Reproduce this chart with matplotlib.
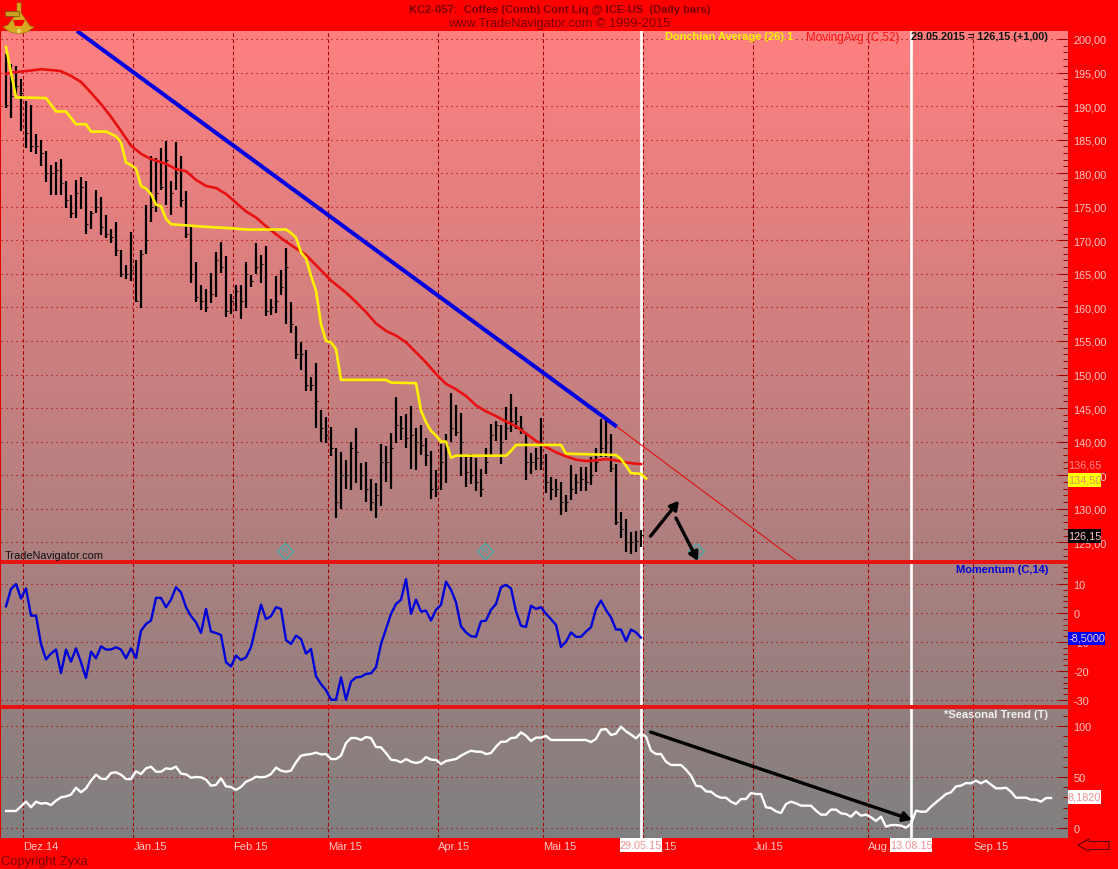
import numpy as np
import matplotlib
matplotlib.use("Agg")
import matplotlib.pyplot as plt
from matplotlib.patches import Polygon, Rectangle, Circle, Wedge

plt.rcParams['font.family'] = ['Liberation Sans', 'DejaVu Sans']
plt.rcParams['lines.scale_dashes'] = False

# ---------- data ----------
highs = [197.8,196.3,196.0,194.1,190.7,190.2,185.9,185.0,183.3,181.2,181.6,182.1,178.8,176.7,179.0,179.4,
         178.8,174.4,177.5,176.4,173.7,171.7,172.8,168.6,166.3,171.2,167.1,168.5,175.2,182.6,182.2,183.7,
         184.8,178.8,184.6,182.6,177.4,172.2,166.7,163.4,162.7,165.1,168.3,169.7,167.7,162.0,163.4,163.4,
         166.8,164.9,169.6,167.8,169.1,161.2,164.7,165.6,168.8,160.8,157.3,154.8,153.6,149.7,151.7,144.7,
         143.6,142.2,139.0,138.4,137.3,139.9,142.0,136.8,136.9,134.4,133.8,139.6,139.4,141.3,146.6,143.8,
         144.1,145.3,142.1,142.5,140.6,138.6,135.8,139.6,141.2,147.2,145.5,144.3,137.7,138.2,137.6,135.9,
         139.1,142.6,143.1,142.4,145.1,147.1,145.2,143.8,141.1,138.3,139.1,143.5,138.1,134.7,134.4,134.0,
         132.1,136.5,135.2,136.2,136.2,137.7,139.0,143.3,143.3,141.2,136.7,129.5,128.5,126.5,126.7,126.9]
lows = [189.7,188.3,191.6,186.3,183.7,183.1,182.8,181.0,178.7,176.8,176.8,176.8,174.8,173.3,173.3,174.7,
        171.0,171.7,174.1,170.8,170.4,169.6,167.6,164.5,164.3,163.9,160.8,159.9,168.0,172.8,174.2,177.5,
        175.2,173.7,177.5,175.0,170.3,163.7,160.8,159.6,159.3,160.6,161.5,165.2,158.5,159.0,159.5,158.3,
        159.9,163.1,165.0,163.6,158.7,158.9,159.1,161.9,157.5,156.2,152.3,150.6,147.6,147.5,142.1,140.0,
        139.8,137.8,128.6,130.0,133.0,132.8,133.9,132.8,131.0,129.7,128.6,130.4,134.0,133.0,139.8,140.3,
        139.1,135.9,135.8,138.0,136.4,131.5,131.7,132.8,133.8,139.9,140.9,134.8,133.3,133.7,132.7,131.7,
        135.2,138.0,140.1,136.6,140.3,141.5,141.9,141.1,134.3,135.2,135.7,135.7,132.3,131.3,131.8,129.0,
        129.5,131.3,132.2,132.7,132.7,133.5,135.5,137.7,137.7,135.4,127.6,125.6,123.5,123.3,123.6,124.3]
closes = [190.2,191.5,193,192,186,184,184,183,180,180,180.5,178.5,176,174,177,178,
          172.5,174,175,172,171,170.5,168.5,165,165,165.5,161,168,170,175,177,178,
          182,177,180,176,171,165,161.5,161,160,162,167,166,159.5,161,162.5,161,
          165,164,166,166.5,159.5,160,161,163,166,157.5,153,153,148.5,148.5,146,142,
          141,139,131,135,135,139,138.5,135,133,131,132,137,137,139,142.5,142,
          140.5,141,140,139.5,138,133,133,137,139.5,142,141.5,140,135.5,135,134,133,
          137,141,142.5,140,142,143,143,142,137,137,137.5,137,134,133,133,131,
          131,133,134,134.5,134,135,137,139,140,136,128,127,125,125,125.15,126.15]

ma_bars = [0,1,5,7,10,11,13,15,17,19,21,23,25,27,29,32,34,36,38,40,42,44,46,48,50,52,54,56,58,60,62,65,68,
           70,72,74,76,78,80,82,84,86,88,90,92,94,96,98,100,102,104,106,108,110,112,114,116,118,120,122,124,126,127]
ma_vals = [194.8,195,195.3,195.5,195.3,195.2,194.5,193.6,192,190.3,188.4,186.3,184.1,182.9,182.1,181.4,180.6,
           180.3,179,178.1,177.8,176.9,175.6,174.3,173.4,172.1,170.9,169.8,168.8,167.8,166.3,164,162.2,
           160.8,159.3,157.6,156.5,155.8,154.8,153.3,151.8,150.1,148.6,147.8,146.8,145.4,144.5,143.8,143,
           142.3,141.2,140.1,139.2,138.4,137.8,137.3,137.1,137.2,137.4,137.2,136.9,136.7,136.65]

don_bars = [0,1,2,8,9,10,12,14,16,17,20,22,23,24,25,26,27,28,29,30,31,32,33,40,45,48,56,57,58,59,60,61,62,63,
            64,65,66,67,76,77,82,83,84,85,86,87,88,89,90,100,101,102,111,112,122,123,124,125,127,128]
don_vals = [198.8,195,191.3,191.2,190.2,189.2,189.2,187.3,187.3,186.2,186.2,185.5,184.6,181.6,181.2,180.7,
            178.1,177.7,176.9,175.3,175.1,173.2,172.4,172,171.8,171.6,171.6,171.1,170.4,168.2,167.3,164.7,
            162.5,157.5,155,154.8,153.8,149.2,149.2,148.8,148.7,144.6,142.9,141.6,140.9,140,140,137.6,137.9,
            137.9,138.6,139.5,139.5,138.2,138,137.4,136.4,135.3,135.2,134.5]

momentum = [2.3,8.3,10,5,8.5,-0.9,-0.9,-10.7,-16,-14,-12.6,-20.7,-12.6,-16.8,-12.2,-17,-22.4,-13.3,-15.6,-11.5,
            -12.6,-12.6,-11.8,-12.6,-15.6,-12.2,-15.5,-6.1,-3.8,-2.6,5.2,5.2,2,4.6,8.9,7.1,2,-1.1,-3.2,-6.9,
            1.4,-6.4,-6.9,-7.6,-17,-18.4,-14.7,-16.2,-15.3,-11.8,-4.4,2.9,-2.1,-1.1,2,1.4,-9.3,-10.7,-7.8,-9,
            -14,-12.4,-21.8,-24.5,-26.6,-29.9,-29.9,-22.2,-29.9,-23.7,-22.2,-22,-21,-20.8,-18.7,-10.7,-5.5,-0.3,3.1,4.6,
            11.7,-0.3,4.6,0.5,0.8,-2.6,1.1,2.8,10.8,8,3.7,-4.6,-6.7,-8,-8.2,-2.9,-2.6,1.1,3.1,8.9,
            9.7,8.5,0.6,-4.4,-4.8,2.5,1.4,2,-0.3,-2.1,-4.1,-11.7,-9.9,-6.7,-8.2,-8.2,-6.4,-4.9,1.4,4.3,
            1,-1.5,-5.7,-5.7,-9.7,-5.7,-6.7,-8.5]

seasonal = [16.7,16.7,16.7,21.2,25.8,20.3,25.8,23.9,24.5,22.5,26.8,30.1,31,32.7,39.5,35,38.9,46.4,52.3,48.4,
            48,53.9,54.6,52.3,48,48,55.6,52.9,58.5,60.1,55.2,55.2,58.5,57.8,60.1,53.3,52.6,49.3,50,49.7,
            47.4,41.5,42.2,48.7,40.8,40.2,37.3,40.2,45.4,47.4,50.3,49.7,50.3,52.9,59.2,56.2,55.2,56.2,64.4,70.9,
            71.9,72.5,73.9,72.2,72.5,67.6,67.6,70.9,83.3,88.2,88.2,86.3,89.2,88.2,79.4,79.1,73.5,67,66.3,64.4,
            67.6,65,63.7,65,69.6,67,66.7,62.7,65.7,66.7,67.6,70.9,73.5,75.8,74.8,74.8,72.5,73.5,79.7,84.6,
            84.6,88.2,88.6,93.8,90.5,85.3,88.6,88.6,90.2,86.3,86.3,86.3,86.3,86.3,86.3,86.3,86.3,84.3,87.3,96.4,
            97,91.2,92.5,99.3,94.8,91.5,87.9,92.8,89.5,75.8,72.5,72.5,65,61.8,61.8,61.8,57.2,51.3,41.5,40.8,
            35.9,35.6,31.7,29.7,29.7,25.8,23.5,28.4,28.4,34.3,33.3,33.3,20.3,19.6,16.3,14.7,23.5,25.8,24.2,21.9,
            21.9,21.9,17,13.1,13.1,18,18,14.4,13.7,11.1,16,12.1,13.1,10.5,6.9,11.1,1.3,2.9,2.9,2.3,
            0.3,3.9,17,16,16,20.9,25.2,29.1,33.3,35,40.8,41.5,44.1,43.8,46.4,43.8,46.4,42.5,38.9,38.9,
            39.5,35.6,29.7,29.7,29.7,27.8,27.8,25.8,29.4,29.4]

month_pos = [3.47,25.47,45.47,64.47,86.47,107.47,127.47,149.47,172.47,193.47]
month_labels = ['Dez.14','Jän.15','Feb.15','Mär.15','Apr.15','Mai.15','Jun.15','Jul.15','Aug.15','Sep.15']
marker_bars = [127, 181]

trend_x = [14.2, 122.2]
trend_y = [201.2, 142.2]
trend_ext_x = [122.2, 158.4]
trend_ext_y = [142.2, 122.06]
r_icon_x = [55.8, 95.8, 138]
r_icon_y = [123.7, 123.7, 123.7]

price_major = list(range(125, 201, 5))
mom_major = [10, 0, -10, -20, -30]
seas_major = [100, 50, 0]

# ---------- layout ----------
W, H = 1118, 870
RED = '#FF0000'
GRID = '#A80000'
TICK = '#A00000'
LBL = '#FFC8C8'
fig = plt.figure(figsize=(W/100, H/100), dpi=100, facecolor=RED)

def make_ax(l, t, r, b, z=1):
    a = fig.add_axes([l/W, 1-b/H, (r-l)/W, (b-t)/H], zorder=z)
    a.patch.set_alpha(0)
    for s in a.spines.values():
        s.set_visible(False)
    return a

# gradient background
bg = make_ax(1, 32, 1068, 839, 0)
grad = np.linspace(0, 1, 256)[:, None, None]
top = np.array([1.0, 0.5, 0.5])
bot = np.array([0.5, 0.5, 0.5])
bg.imshow(top*(1-grad)+bot*grad, aspect='auto', extent=(0, 1, 0, 1))
bg.set_axis_off()

XL = (-1, 212.4)
ax1 = make_ax(1, 32, 1068, 563)
ax2 = make_ax(1, 564, 1068, 708)
ax3 = make_ax(1, 709, 1068, 839)
ax1.set_ylim(200-(563-40)/6.71, 200+8/6.71)
ax2.set_ylim(-(708-614)/2.9, (614-564)/2.9)
ax3.set_ylim(-(839-829)/1.02, (829-709)/1.02)

for a in (ax1, ax2, ax3):
    a.set_xlim(*XL)
    a.set_xticks(month_pos)
    a.tick_params(axis='x', length=0)
    a.grid(True, axis='x', color=GRID, lw=0.75, ls=(0, (2.6, 1.8)), zorder=1)
    a.grid(True, axis='y', color=GRID, lw=0.8, ls=(0, (0.8, 2.8)), zorder=1)
    a.set_axisbelow(True)
    for m in marker_bars:
        a.axvline(m, color='white', lw=1.9, zorder=1.5)
    a.yaxis.tick_right()

ax1.set_xticklabels([])
ax2.set_xticklabels([])
ax3.set_xticklabels(month_labels, ha='left', color=LBL, fontsize=8.0)
ax3.tick_params(axis='x', pad=2.5)

def style_y(a, major, minor, labels):
    a.set_yticks(major)
    a.set_yticklabels(labels, color=LBL, fontsize=7.8)
    a.set_yticks(minor, minor=True)
    a.tick_params(axis='y', which='major', direction='in', length=7.2, width=0.75, color=TICK, pad=4)
    a.tick_params(axis='y', which='minor', direction='in', length=3.6, width=0.75, color=TICK)
    a.tick_params(axis='y', which='both', right=True, left=False)

style_y(ax1, price_major, [v for v in range(123, 201) if v % 5],
        [f'{v},00' for v in price_major])
style_y(ax2, mom_major, [v for v in range(-30, 17, 2) if v % 10],
        [str(v) for v in mom_major])
style_y(ax3, seas_major, [v for v in range(0, 111, 10) if v % 50],
        [str(v) for v in seas_major])

# price panel
idx = np.arange(len(highs))
ax1.vlines(idx, lows, highs, color='black', lw=1.6, zorder=3)
ax1.hlines(closes, idx, idx+0.42, color='black', lw=0.75, zorder=3)
ax1.plot(ma_bars, ma_vals, color='#E81010', lw=1.9, zorder=4)
ax1.plot(don_bars, don_vals, color='#FFF000', lw=1.9, zorder=5)
ax1.plot(trend_x, trend_y, color='#0000E0', lw=2.9, zorder=6, solid_capstyle='butt')
ax1.plot(trend_ext_x, trend_ext_y, color='#E01010', lw=0.8, zorder=6)
for x, y in zip(r_icon_x, r_icon_y):
    ax1.plot([x], [y], marker='D', ms=8, mfc='none', mec='#48A8A8', mew=1.0, zorder=6)
    ax1.text(x, y, 'R', color='#48A8A8', fontsize=6.5, ha='center', va='center', zorder=6)
arrow = dict(arrowstyle='-|>,head_width=0.28,head_length=0.5', color='black', lw=2.4, shrinkA=0, shrinkB=0)
ax1.annotate('', xy=(134.6, 131.2), xytext=(128.9, 125.9), arrowprops=arrow, zorder=7)
ax1.annotate('', xy=(138.4, 122.2), xytext=(134, 128.6), arrowprops=arrow, zorder=7)

# momentum panel
ax2.plot(np.arange(len(momentum)), momentum, color='#0000D8', lw=1.7, zorder=4)

# seasonal panel
ax3.plot(np.arange(len(seasonal)), seasonal, color='white', lw=1.7, zorder=4)
ax3.annotate('', xy=(181.2, 8.0), xytext=(128.9, 94.1), arrowprops=arrow, zorder=7)

# overlay in pixel coordinates for decorations and text
ov = fig.add_axes([0, 0, 1, 1], zorder=10)
ov.set_xlim(0, W); ov.set_ylim(H, 0); ov.set_axis_off(); ov.patch.set_alpha(0)

for y in (563, 708):
    ov.add_patch(Rectangle((0, y-1.7), 1068, 3.4, color='#E81414', lw=0))
ov.add_patch(Rectangle((0, 32), 1, 807, color='#E00000', lw=0))

DARK = '#7A0000'
ov.text(560, 9.5, 'KC2-057:  Coffee (Comb) Cont Liq @ ICE-US  (Daily bars)', color=DARK, fontsize=8.0,
        fontweight='bold', ha='center', va='center')
ov.text(559.5, 24.5, 'www.TradeNavigator.com © 1999-2015', color=DARK, fontsize=9.15, ha='center', va='center')
ov.text(665, 37.5, 'Donchian Average (26).1', color='#FFF000', fontsize=7.9, fontweight='bold', va='center')
ov.text(806, 37.5, 'MovingAvg (C,52)', color='#FF1414', fontsize=8.4, va='center')
ov.text(911, 37.5, '29.05.2015 = 126,15 (+1,00)', color='#101010', fontsize=7.8, fontweight='bold', va='center')
ov.text(5, 556, 'TradeNavigator.com', color='#101010', fontsize=7.9, va='center')
ov.text(1048, 570, 'Momentum (C,14)', color='#0000D8', fontsize=7.9, fontweight='bold', ha='right', va='center')
ov.text(1048, 715, '*Seasonal Trend (T)', color='#F0F0F0', fontsize=8.0, fontweight='bold', ha='right', va='center')
ov.text(1, 862, 'Copyright Zyxa', color=DARK, fontsize=9.3, va='center')

def boxed(x0, x1, yc, h, fc, txt, tc):
    ov.add_patch(Rectangle((x0, yc-h/2), x1-x0, h, color=fc, lw=0))
    ov.text((x0+x1)/2, yc, txt, color=tc, fontsize=7.8, ha='center', va='center')

ov.text(1068.5, 466, '136,65', color='#FF9090', fontsize=7.8, va='center')
boxed(1068, 1101, 480.5, 14, '#FFFF00', '134,50', '#E89060')
boxed(1068, 1101, 537, 14, '#000000', '126,15', '#FFC8C8')
boxed(1068, 1105, 639, 13, '#0000FF', '-8,5000', '#FFC8C8')
boxed(1068, 1101, 798, 14, '#FFFFFF', '8,1820', '#F09090')
boxed(620, 662, 846, 14, '#FFFFFF', '29.05.15', '#F09090')
boxed(890, 932, 846, 14, '#FFFFFF', '13.08.15', '#F09090')

# return-arrow button
ov.add_patch(Polygon([[1078, 846], [1089, 840], [1089, 842.5], [1109, 842.5], [1109, 850.5],
                      [1089, 850.5], [1089, 852.5]], closed=True, fc=RED, ec='#600000', lw=0.8))

# sextant logo
G = '#D8A820'
ov.add_patch(Polygon([[17, 4], [21, 4], [21, 14], [30, 27], [34, 28], [27, 33], [19, 35], [10, 33], [3, 28],
                      [8, 26], [17, 14]], closed=True, fc=G, ec='#A07810', lw=0.5))
ov.add_patch(Rectangle((5, 12), 14, 5, fc='#C8A020', ec='#705010', lw=0.5))
ov.add_patch(Polygon([[13, 21], [25, 21], [22, 27], [15, 27]], closed=True, fc=RED, lw=0))
ov.add_patch(Circle((19, 32), 2.2, fc='#F0D060', lw=0))

fig.savefig('out.png', dpi=100, facecolor=RED)
